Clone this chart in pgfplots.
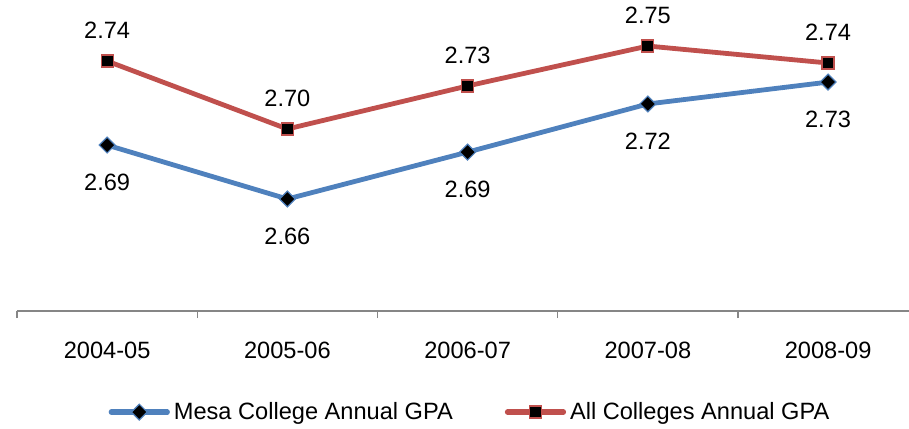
\documentclass[border=0pt]{standalone}
\usepackage{fontspec}
\setmainfont{Liberation Sans}
\usepackage{pgfplots}
\pgfplotsset{compat=1.18}

\definecolor{mesablue}{HTML}{4F81BD}
\definecolor{allred}{HTML}{C0504D}
\definecolor{axisgray}{HTML}{868686}

\begin{document}
\begin{tikzpicture}
  \begin{axis}[
    at={(0,0)}, anchor=south west,
    scale only axis,
    width=446pt, height=155.5pt,
    xmin=-0.5, xmax=4.449,
    ymin=2.5983, ymax=2.776,
    axis x line=bottom, axis y line=none,
    axis line style={-, draw=axisgray, line width=0.6pt},
    xtick={0,1,2,3,4},
    xticklabels={2004-05,2005-06,2006-07,2007-08,2008-09},
    minor xtick={-0.5,0.5,1.5,2.5,3.5},
    tick align=outside,
    major tick length=0pt, minor tick length=3.5pt,
    minor tick style={draw=axisgray, line width=0.6pt},
    xticklabel style={anchor=base, yshift=-23.5pt,
      font=\fontsize{11.8}{14}\selectfont},
    clip=false,
    point meta=explicit symbolic,
    nodes near coords,
    every node near coord/.append style={anchor=center,
      font=\fontsize{11.8}{14}\selectfont, text=black},
    legend columns=2,
    legend style={at={(0.509,-0.325)}, anchor=center, draw=none,
      font=\fontsize{11.8}{14}\selectfont,
      /tikz/every even column/.append style={column sep=24pt}},
    legend image code/.code={
      \draw[#1, mark=none, line width=2.6pt, line cap=round]
        (0pt,0pt) -- (28pt,0pt);
      \draw[#1, only marks] plot coordinates {(14pt,0pt)};},
  ]

  % Mesa College
  \addplot[mesablue, line width=2.4pt, mark=square*,
    mark size=2.8pt,
    mark options={rotate=45, fill=black, draw=mesablue, line width=0.6pt},
    every node near coord/.append style={yshift=-18.5pt}]
    coordinates {
      (0,2.6931) [2.69]
      (1,2.6623) [2.66]
      (2,2.6891) [2.69]
      (3,2.7166) [2.72]
      (4,2.7291) [2.73]
    };
  \addlegendentry{Mesa College Annual GPA}

  % All Colleges
  \addplot[allred, line width=2.4pt, mark=square*,
    mark size=3pt,
    mark options={fill=black, draw=allred, line width=0.6pt},
    every node near coord/.append style={yshift=15.5pt}]
    coordinates {
      (0,2.7411) [2.74]
      (1,2.7023) [2.70]
      (2,2.7269) [2.73]
      (3,2.7497) [2.75]
      (4,2.7400) [2.74]
    };
  \addlegendentry{All Colleges Annual GPA}
  \end{axis}
  \pgfresetboundingbox
  \useasboundingbox (-8.5pt,-58.5pt) rectangle (446pt,155.5pt);
\end{tikzpicture}
\end{document}
